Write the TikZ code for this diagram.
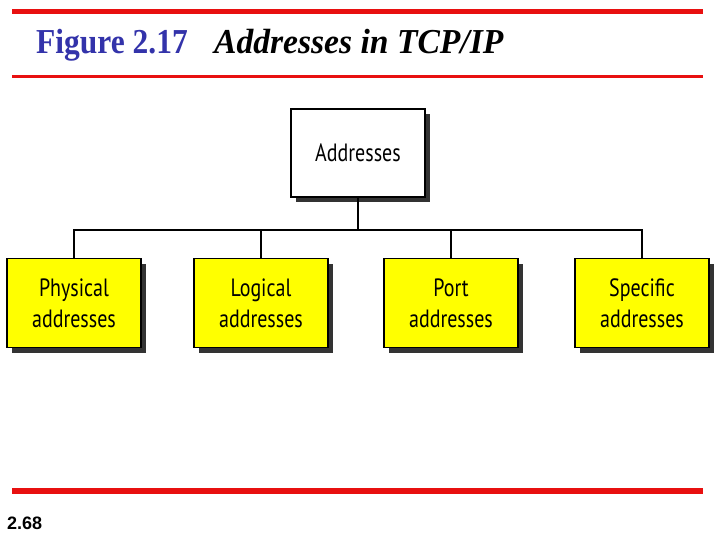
\documentclass[tikz,border=0pt]{standalone}
\usepackage{fontspec}
\setmainfont{Liberation Serif}
\newfontfamily\boxfont[FakeStretch=0.8]{PT Sans}
\newfontfamily\numfont{Liberation Sans}
\newfontfamily\titlefont[FakeStretch=0.9]{Liberation Serif}
\newfontfamily\titleitfont[FakeStretch=0.96]{Liberation Serif}
\usetikzlibrary{positioning, shadows}
\definecolor{slidered}{RGB}{232,16,16}
\definecolor{titleblue}{RGB}{51,51,170}
\definecolor{boxyellow}{RGB}{255,255,0}
\tikzset{
    addrbox/.style={draw, line width=1.6pt, minimum width=134pt, minimum height=89pt,
        align=center, font=\boxfont\fontsize{25}{31}\selectfont,
        drop shadow={shadow xshift=5pt, shadow yshift=-5pt, fill=black!80, opacity=1}},
    leafbox/.style={addrbox, fill=boxyellow},
    rootbox/.style={addrbox, fill=white, minimum height=88pt},
    treeline/.style={line width=1.8pt},
    redrule/.style={slidered, line cap=butt},
}
\begin{document}
\begin{tikzpicture}[x=1pt, y=-1pt]
    \useasboundingbox (0,0) rectangle (720,540);
    % rules
    \draw[redrule, line width=5pt] (12,12) -- (703,12);
    \draw[redrule, line width=3pt] (12,77) -- (703,77);
    \draw[redrule, line width=6pt] (12,491) -- (703,491);
    % title
    \node[anchor=base west, inner sep=0pt, font=\fontsize{35}{40}\selectfont] (title) at (36,54)
        {\titlefont\textcolor{titleblue}{\textbf{Figure 2.17}}\hspace{0.75em}\titleitfont\textbf{\textit{Addresses in TCP/IP}}};
    % boxes
    \node[rootbox] (addr) at (358,153) {Addresses};
    \node[leafbox] (phys) at (74,303) {Physical\\addresses};
    \node[leafbox] (logi) at (261,303) {Logical\\addresses};
    \node[leafbox] (port) at (451,303) {Port\\addresses};
    \node[leafbox] (spec) at (642,303) {Specific\\addresses};
    % tree lines
    \coordinate (bus) at (358,230);
    \draw[treeline] (addr.south) -- (bus);
    \draw[treeline] (phys.north) |- (bus) -| (spec.north);
    \draw[treeline] (logi.north) -- (logi.north |- bus);
    \draw[treeline] (port.north) -- (port.north |- bus);
    % page number
    \node[anchor=base west, inner sep=0pt, font=\numfont\bfseries\fontsize{18}{22}\selectfont] (pagenum) at (7,529) {2.68};
\end{tikzpicture}
\end{document}
